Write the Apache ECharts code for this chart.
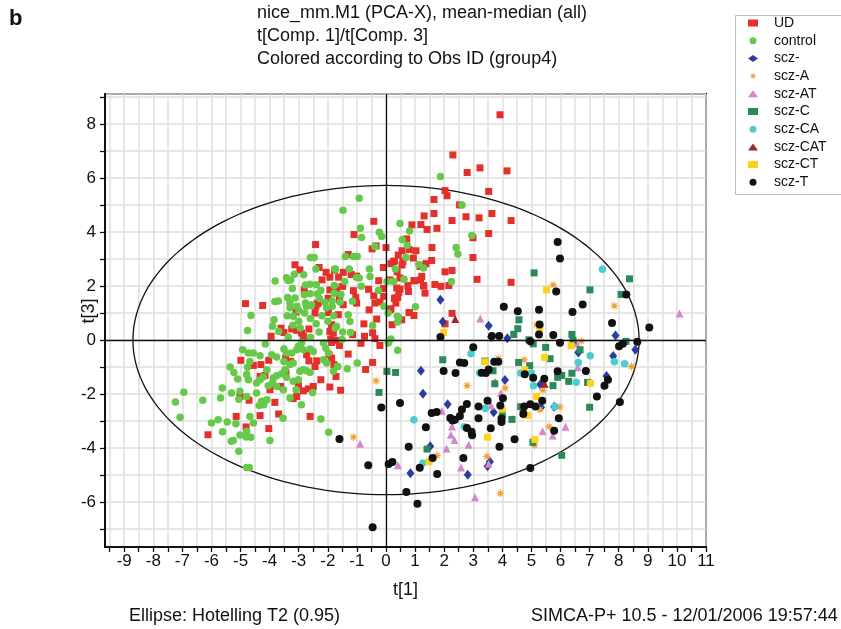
<!DOCTYPE html>
<html>
<head>
<meta charset="utf-8">
<script src="https://cdn.jsdelivr.net/npm/echarts@6/dist/echarts.min.js"></script>
<style>
  html, body { margin: 0; padding: 0; background: #fff; }
  #chart { width: 841px; height: 629px; }
</style>
</head>
<body>
<div id="chart"></div>
<script>
// group names, in legend order
const groupNames = ['UD', 'control', 'scz-', 'scz-A', 'scz-AT', 'scz-C', 'scz-CA', 'scz-CAT', 'scz-CT', 'scz-T'];

// t[1], t[3] scores
const udPoints = [
  [3.92,8.35],[2.3,6.86],[2.79,6.21],[3.23,6.38],[4.16,6.27],[2.03,5.54],[2.1,5.35],[3.53,5.51],[1.65,5.21],[2.53,5.01],
  [1.31,4.6],[1.65,4.69],[2.75,4.57],[3.2,4.53],[3.64,4.69],[2.27,4.43],[4.3,4.43],[0.89,4.27],[1.2,4.28],[1.41,4.1],
  [1.75,4.14],[3.53,3.95],[2.99,3.79],[0.71,3.75],[1.58,3.43],[0.8,3.35],[1.03,3.31],[0.42,3.15],[0.94,3.04],[2.99,3.06],
  [0.58,2.91],[1.57,2.95],[1.37,2.83],[0.29,2.93],[0.38,2.53],[1.2,2.75],[2.03,2.53],[2.27,2.58],[1.23,2.36],[0.99,2.2],
  [3.13,2.25],[4.3,2.14],[1.68,2.06],[1.89,1.99],[2.16,2.02],[1.29,2.01],[1.34,1.74],[0.77,1.8],[0.48,1.89],[0.31,1.56],
  [0.4,1.58],[2.27,0.99],[0.81,1.02],[0.96,0.91],[0.17,1.16],
  [-0.42,4.4],[-1.1,3.91],[-0.34,3.49],[-0.48,3.38],[0.0,3.43],[0.55,3.31],[-1.3,3.17],[0.25,2.91],[0.55,2.78],[0.17,2.83],
  [-0.09,2.69],[1.17,2.73],[-1.77,2.59],[-1.47,2.51],[-1.63,2.33],[-1.01,2.37],[-1.2,2.43],[-1.93,2.33],[-0.25,2.2],[0.14,2.23],
  [0.48,2.3],[0.75,2.02],[0.96,2.2],[1.19,2.23],[1.3,2.01],[-0.6,1.88],[-0.09,1.91],[-1.12,1.83],[-1.49,1.99],[-1.7,1.83],
  [-1.04,1.58],[-0.42,1.64],[-0.08,1.62],[0.37,1.93],[0.44,1.77],[-0.38,1.37],[-0.21,1.41],[0.29,1.54],[0.34,1.37],[-1.01,1.37],
  [-1.6,1.49],
  [-2.42,3.54],[-3.13,2.79],[-2.96,2.6],[-2.3,2.69],[-2.06,2.51],[-2.2,2.23],[-4.83,1.35],[-4.24,1.28],[-1.75,1.96],[-1.93,1.86],
  [-1.7,1.74],[-1.99,1.54],[-2.33,1.37],[-2.41,1.25],[-2.81,1.86],
  [-3.95,0.14],[-4.99,-0.75],[-4.3,-0.91],[-4.56,-0.94],[-4.03,-0.75],[-5.02,-2.09],[-4.71,-2.23],[-4.16,-1.31],[-3.82,-2.31],[-3.99,-1.84],
  [-5.15,-2.83],[-4.33,-2.8],[-3.69,-2.74],[-4.81,-3.22],[-4.03,-3.28],[-6.12,-3.51],[-2.61,-2.83],[-3.61,0.44],[-3.51,0.28],[-3.24,0.41],
  [-3.09,1.04],[-3.07,0.36],[-2.9,0.26],[-2.84,0.14],[-2.65,0.41],[-2.36,1.35],[-2.44,1.0],[-1.98,1.02],[-1.93,0.32],[-1.81,0.26],
  [-1.7,-0.01],[-1.9,0.04],[-2.73,-0.54],[-2.65,-0.77],[-2.38,-0.77],[-2.44,-0.98],[-1.96,-0.54],[-1.87,-0.67],[-1.79,-0.91],[-1.72,-1.35],
  [-2.24,-1.47],[-2.5,-1.72],[-2.67,-1.81],[-2.84,-1.88],[-3.07,-2.09],[-3.19,-2.17],[-3.01,-1.69],[-3.62,-1.72],[-3.44,-1.2],[-3.45,-0.67],
  [-3.28,-0.79],[-4.33,-1.35],[-1.93,-1.74],
  [-1.47,1.31],[-0.58,1.12],[0.14,1.12],[0.79,1.02],[2.03,0.6],[-1.64,0.94],[-1.87,0.57],[-0.76,0.6],[-0.32,0.78],[0.21,0.57],
  [0.54,0.75],[-0.74,0.14],[-0.46,0.27],[-0.38,0.05],[-1.15,0.2],[-1.87,-0.09],[-1.6,-0.2],[-0.86,-0.12],[-0.21,-0.2],[-1.3,-0.52],
  [-0.46,-0.83],[-0.7,-1.09],[-1.56,-1.86]
];

const controlPoints = [
  [1.87,6.06],[2.61,5.01],[0.48,4.32],[0.81,4.04],[2.95,3.88],[0.56,3.72],[0.73,3.51],[2.41,3.43],[2.47,3.19],[0.69,3.06],
  [1.13,2.8],[1.29,2.67],[0.26,2.17],[0.62,2.25],[2.25,2.17],[1.01,1.23],[0.44,0.84],
  [-0.92,5.26],[-1.48,4.81],[-0.88,4.14],[-0.84,3.8],[-0.23,4.0],[-0.15,3.84],[-0.38,3.47],[-1.4,3.1],[-1.12,3.1],
  [-0.99,3.1],[-1.74,2.63],[-1.26,2.63],[-0.57,2.63],[-0.55,2.36],[0.32,2.63],[-0.92,2.3],[-1.01,2.32],[0.03,2.17],[0.23,2.17],
  [-1.42,2.17],[-1.78,2.02],[-0.85,1.99],[-0.26,1.84],[-1.55,1.69],[-1.15,1.44],[-1.85,1.46],[-0.07,1.25],
  [-2.6,3.06],[-2.47,3.06],[-2.41,2.63],[-1.75,2.62],[-2.83,2.42],[-3.81,2.19],[-3.42,2.31],[-3.36,2.21],[-3.28,2.23],[-2.61,2.07],
  [-2.4,2.05],[-2.77,2.04],[-3.22,1.91],[-3.82,1.43],[-3.38,1.58],[-3.13,1.56],[-3.3,1.37],[-3.06,1.25],[-2.81,1.68],[-2.61,1.72],
  [-2.36,1.72],[-2.24,1.84],[-2.29,1.54],[-2.1,1.4],[-2.77,1.37],[-1.78,1.74],[-2.58,1.27],[-4.64,0.91],[-3.15,2.44],
  [-4.76,0.35],[-3.85,0.75],[-3.9,0.51],[-3.69,0.32],[-4.15,-0.15],[-4.93,-0.36],[-4.73,-0.48],[-4.56,-0.48],[-4.33,-0.58],[-4.68,-0.79],
  [-4.76,-1.01],[-5.36,-1.0],[-5.23,-1.2],[-5.1,-1.44],[-4.79,-1.28],[-4.73,-1.47],[-4.33,-1.47],[-4.45,-1.59],[-4.22,-1.37],[-4.1,-1.1],
  [-3.93,-0.54],[-3.76,-0.63],[-3.51,-0.33],[-3.42,-0.48],[-3.3,-0.91],[-3.19,-0.85],[-3.47,-1.1],[-3.59,-1.25],[-3.76,-1.32],[-3.87,-1.41],
  [-3.9,-1.59],[-4.05,-1.69],[-4.45,-1.96],[-4.28,-2.27],[-4.36,-2.43],[-4.2,-2.4],[-4.1,-2.21],[-4.68,-2.83],[-4.56,-3.07],[-4.79,-3.38],
  [-4.81,-3.59],[-5.16,-3.1],[-5.46,-3.04],[-5.77,-2.95],[-6.0,-3.07],[-5.62,-3.4],[-5.02,-3.52],[-5.32,-3.75],[-5.25,-3.72],[-5.06,-4.12],
  [-4.65,-3.6],[-3.99,-3.72],[-4.79,-4.72],[-4.7,-4.72],[-5.63,-1.78],[-5.69,-2.15],[-5.31,-1.96],[-5.02,-1.9],[-5.06,-2.19],[-4.79,-2.09],
  [-6.3,-2.23],[-6.95,-1.93],[-7.24,-2.3],[-7.08,-2.86],[-3.54,-2.9],[-2.91,-2.4],[-2.24,-2.93],[-1.97,-3.42],[-3.76,-1.72],[-3.53,-1.84],
  [-3.3,-2.15],[-3.09,-1.84],[-3.19,-1.53],[-3.01,-1.47],[-2.84,-1.1],[-2.73,-1.14],[-2.61,-1.2],[-2.96,-1.16],[-2.52,-1.94],[-3.42,-1.38],
  [-3.51,-0.79],[-3.24,-0.48],[-3.07,-0.36],[-2.84,-0.36],[-2.61,-0.33],[-2.5,-0.42],[-3.01,-0.23],[-2.15,-0.11],[-2.07,-0.3],[-1.98,-0.48],
  [-2.15,-0.73],[-2.04,-0.85],[-1.81,-1.16],[-1.66,-0.98],[-2.9,-0.09],[-3.36,0.11],[-3.19,0.88],[-2.73,1.25],[-2.56,1.31],
  [-3.4,0.9],[-3.0,0.7],[-2.8,1.0],[-2.6,0.8],[-2.4,0.6],[-2.2,0.9],[-2.0,0.7],[-1.8,0.9],[-2.3,0.3],[-2.6,0.1],
  [-3.2,0.55],[-2.95,0.45],[-1.75,0.45],[-2.05,1.2],[-1.85,1.25],[-3.7,1.45],[-3.3,1.2],[-3.0,1.1],
  [-1.58,1.4],[0.07,1.0],[0.39,0.88],[0.4,0.67],[-0.46,0.54],[-1.3,0.94],[-1.24,0.69],[-1.7,0.51],[-1.49,0.3],[-1.22,0.28],
  [-1.51,0.02],[0.08,-0.11],[0.17,0.04],[0.4,-0.38],[-0.99,-0.85],[-1.33,-1.06],[-1.67,-0.98]
];

const sczPoints = [
  [1.87,1.49],[1.95,0.68],[3.53,0.53],[3.61,0.11],[4.17,0.07],[7.89,0.17],[8.57,-0.36],[7.81,-0.59],[6.61,-0.46],[1.2,-1.14],
  [4.09,-1.48],[5.3,-1.65],[7.58,-1.33],[1.27,-1.99],[2.12,-2.38],[3.7,-2.68],[5.78,-2.47],[1.52,-3.94],[3.57,-4.51],[3.49,-4.68],
  [0.84,-4.94],[2.81,-4.99],[5.33,-2.49]
];

const sczAPoints = [
  [5.75,2.04],[7.85,1.27],[5.18,0.56],[6.71,-0.04],[3.86,-0.68],[4.75,-0.73],[8.44,-0.98],[2.79,-1.69],[4.1,-1.78],[5.39,-1.86],
  [5.98,-2.48],[5.29,-2.58],[5.61,-3.21],[5.1,-3.9],[1.75,-4.28],[3.47,-4.31],[3.93,-5.68],[-0.34,-1.51],[-1.12,-3.6]
];

const sczATPoints = [
  [3.24,0.8],[10.09,0.98],[6.55,-0.11],[6.59,-1.01],[3.95,-1.96],[3.61,-2.43],[1.92,-2.62],[2.27,-3.2],[2.23,-3.51],[2.35,-3.7],
  [2.08,-4.02],[5.38,-3.38],[5.73,-3.54],[6.17,-3.21],[2.58,-4.72],[3.53,-4.58],[3.06,-5.83],[0.41,-4.64],[3.74,-1.54],[2.84,-3.88],
  [-0.89,-3.84]
];

const sczCPoints = [
  [5.09,2.49],[7.01,1.86],[8.08,1.69],[8.37,2.27],[4.57,0.75],[4.53,0.42],[4.39,0.21],[6.39,0.21],[6.43,-0.01],[4.91,0.01],
  [5.06,-0.14],[8.25,-0.05],[6.67,-0.36],[5.49,-0.27],[5.64,-0.69],[4.56,-0.83],[4.94,-0.95],[1.95,-0.73],[3.4,-0.78],[3.68,-1.14],
  [3.74,-1.62],[5.9,-1.38],[6.04,-1.31],[6.39,-1.23],[6.28,-1.53],[5.74,-1.69],[6.93,-1.57],[7.0,-2.49],[4.63,-2.47],[4.0,-2.77],
  [4.33,-2.94],[5.05,-3.79],[6.04,-4.27],[1.41,-4.04],[0.33,-1.2],[0.03,-1.16],[-0.24,-1.94]
];

const sczCAPoints = [
  [7.44,2.62],[2.92,-0.51],[3.22,-1.22],[3.41,-2.54],[4.63,-1.22],[5.0,-1.22],[5.07,-1.69],[7.02,-0.58],[7.85,-0.8],[8.2,-0.88],
  [6.61,-0.83],[6.54,-1.56],[5.81,-2.46],[2.69,-3.21],[1.27,-4.56],[0.96,-2.95]
];

const sczCATPoints = [
  [5.45,-1.62],[2.38,0.78],[4.72,-2.52]
];

const sczCTPoints = [
  [5.52,1.86],[1.98,0.28],[5.29,0.44],[6.36,-0.21],[5.45,-0.64],[3.4,-0.81],[4.77,-1.11],[7.03,-1.6],[5.18,-2.09],[3.99,-2.56],
  [4.87,-2.79],[3.49,-3.6],[1.48,-4.51],[5.12,-3.69]
];

const sczTPoints = [
  [5.9,3.63],[5.98,3.02],[5.85,1.8],[4.05,1.23],[4.53,1.07],[5.26,1.12],[6.41,1.04],[6.76,1.32],[8.26,1.69],[5.28,0.58],
  [7.77,0.63],[9.05,0.47],[1.87,0.11],[3.64,0.15],[3.89,0.15],[5.26,0.21],[4.96,-0.04],[5.75,0.19],[5.98,-0.1],[8.64,-0.06],
  [8.01,-0.23],[8.14,-0.14],[3.0,-0.27],[2.54,-0.83],[2.69,-0.85],[3.72,-0.8],[3.86,-0.8],[1.98,-1.15],[2.39,-1.22],[3.29,-1.21],
  [3.43,-1.22],[3.53,-1.09],[4.77,-1.27],[5.06,-1.4],[5.44,-1.43],[5.9,-1.16],[6.87,-1.15],[7.63,-1.47],[7.51,-1.69],[7.25,-2.09],
  [8.04,-2.3],[0.48,-2.33],[3.49,-2.25],[4.02,-2.16],[5.37,-2.25],[5.78,-3.36],[2.78,-2.37],[2.61,-2.57],[3.18,-2.46],[3.93,-2.43],
  [4.75,-2.46],[4.96,-2.38],[5.14,-2.46],[1.57,-2.7],[1.74,-2.67],[2.21,-2.89],[2.29,-2.98],[2.37,-2.95],[2.54,-2.81],[3.18,-2.9],
  [3.97,-2.91],[3.97,-3.04],[4.72,-2.74],[5.94,-2.9],[1.37,-3.23],[2.78,-3.26],[2.94,-3.4],[2.96,-3.53],[3.6,-3.27],[4.42,-3.68],
  [3.9,-3.95],[0.78,-3.95],[1.6,-4.37],[2.66,-4.37],[1.16,-4.73],[1.76,-4.96],[0.22,-4.52],[4.96,-4.74],[0.7,-5.63],[1.08,-6.07],
  [-0.16,-2.5],[-1.6,-3.67],[-0.61,-4.64],[0.09,-4.59],[-0.46,-6.94]
];

// Hotelling T2 ellipse semi-axes
const ellipseA = 8.7;
const ellipseB = 5.73;

const xMin = -9.66, xMax = 11;
const yMin = -7.67, yMax = 9.12;

const font = 'Liberation Sans';

function starPath(n, inner) {
    let d = '';
    for (let i = 0; i < 2 * n; i ++) {
        const r = i % 2 ? inner : 1;
        const a = Math.PI * i / n;
        d += (i ? 'L' : 'M') + (r * Math.cos(a)).toFixed(3) + ' ' + (r * Math.sin(a)).toFixed(3) + ' ';
    }
    return 'path://' + d + 'Z';
}

function scatter(name, data, symbol, size, color) {
    return {
        name: name,
        type: 'scatter',
        data: data,
        symbol: symbol,
        symbolSize: size,
        itemStyle: { color: color, opacity: 1 },
        emphasis: { disabled: true },
    };
}

const chart = echarts.init(document.getElementById('chart'));

const series = [
    {
        type: 'custom',
        silent: true,
        z: 1,
        data: [[0, 0]],
        renderItem: function(params, api) {
            const pts = [];
            for (let i = 0; i <= 180; i ++) {
                const t = 2 * Math.PI * i / 180;
                pts.push(api.coord([ellipseA * Math.cos(t), ellipseB * Math.sin(t)]));
            }
            return {
                type: 'polyline',
                shape: { points: pts },
                style: { stroke: '#111', lineWidth: 1.3, fill: null },
            };
        },
        markLine: {
            silent: true,
            symbol: 'none',
            label: { show: false },
            lineStyle: { color: '#111', width: 1.3, type: 'solid' },
            data: [{ xAxis: 0 }, { yAxis: 0 }],
        },
    },
    scatter('UD', udPoints, 'rect', 7, '#e3302a'),
    scatter('control', controlPoints, 'circle', 7.5, '#66c94a'),
    scatter('scz-', sczPoints, 'diamond', [8, 10], '#2b3d9e'),
    scatter('scz-A', sczAPoints, starPath(8, 0.4), 10, '#f4a23c'),
    scatter('scz-AT', sczATPoints, 'triangle', 8, '#d686cc'),
    scatter('scz-C', sczCPoints, 'rect', 7, '#2a8a58'),
    scatter('scz-CA', sczCAPoints, 'circle', 7.5, '#4ecdd0'),
    scatter('scz-CAT', sczCATPoints, 'triangle', 8, '#a6252a'),
    scatter('scz-CT', sczCTPoints, 'rect', 7, '#ffd21a'),
    scatter('scz-T', sczTPoints, 'circle', 8, '#111111'),
];

chart.setOption({
    animation: false,
    title: {
        text: 'nice_mm.M1 (PCA-X), mean-median (all)\nt[Comp. 1]/t[Comp. 3]\nColored according to Obs ID (group4)',
        left: 257,
        top: 2,
        padding: 0,
        textStyle: { fontFamily: font, fontSize: 18, fontWeight: 'normal', lineHeight: 23, color: '#111' },
    },
    legend: {
        orient: 'vertical',
        left: 748,
        top: 16,
        padding: 0,
        itemWidth: 10,
        itemHeight: 7,
        itemGap: 3.7,
        selectedMode: false,
        data: groupNames,
        textStyle: { fontFamily: font, fontSize: 14, lineHeight: 14, color: '#111', padding: [0, 0, 0, 11] },
    },
    grid: {
        left: 105,
        right: 135,
        top: 94,
        bottom: 82,
        show: true,
        borderColor: '#111',
        borderWidth: 2,
        backgroundColor: '#fff',
    },
    xAxis: {
        type: 'value',
        min: xMin,
        max: xMax,
        minInterval: 0.5,
        maxInterval: 0.5,
        axisLine: { show: true, onZero: false, lineStyle: { color: '#111', width: 2 } },
        axisTick: { show: true, length: 5, lineStyle: { color: '#111', width: 1.3 } },
        axisLabel: {
            showMinLabel: false,
            margin: 6,
            fontFamily: font,
            fontSize: 17,
            color: '#111',
            formatter: (v) => (Number.isInteger(v) ? String(v) : ''),
        },
        splitLine: { show: true, lineStyle: { color: '#dedede', width: 1.5 } },
        name: 't[1]',
        nameLocation: 'middle',
        nameGap: 34,
        nameTextStyle: { fontFamily: font, fontSize: 18, color: '#111' },
    },
    yAxis: {
        type: 'value',
        min: yMin,
        max: yMax,
        minInterval: 1,
        maxInterval: 1,
        axisLine: { show: true, onZero: false, lineStyle: { color: '#111', width: 2 } },
        axisTick: { show: true, length: 5, lineStyle: { color: '#111', width: 1.3 } },
        axisLabel: {
            showMinLabel: false,
            showMaxLabel: false,
            margin: 9,
            fontFamily: font,
            fontSize: 17,
            color: '#111',
            formatter: (v) => (Number.isInteger(v) && v % 2 === 0 ? String(v) : ''),
        },
        splitLine: { show: true, lineStyle: { color: '#dedede', width: 1.5 } },
    },
    graphic: [
        {
            type: 'rect',
            left: 733,
            top: 13,
            shape: { width: 120, height: 179 },
            style: { fill: null, stroke: '#bdbdbd', lineWidth: 1 },
            silent: true,
        },
        {
            type: 'text',
            left: 9,
            top: 8,
            style: { text: 'b', fontFamily: font, fontSize: 22, fontWeight: 'bold', fill: '#111' },
        },
        {
            type: 'text',
            x: 89,
            y: 311,
            rotation: Math.PI / 2,
            style: { text: 't[3]', fontFamily: font, fontSize: 18, fill: '#111', align: 'center', verticalAlign: 'middle' },
        },
        {
            type: 'text',
            left: 129,
            top: 607,
            style: { text: 'Ellipse: Hotelling T2 (0.95)', fontFamily: font, fontSize: 18, fill: '#111' },
        },
        {
            type: 'text',
            left: 531,
            top: 607,
            style: { text: 'SIMCA-P+ 10.5 - 12/01/2006 19:57:44', fontFamily: font, fontSize: 18, fill: '#111' },
        },
    ],
    series: series,
});
</script>
</body>
</html>
